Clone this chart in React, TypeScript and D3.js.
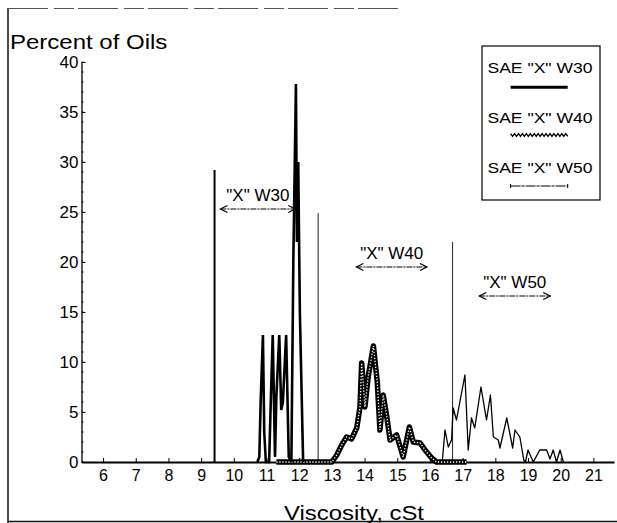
import * as d3 from "d3";
import { useEffect, useRef } from "react";

// axis ticks
const xTicks = [6, 7, 8, 9, 10, 11, 12, 13, 14, 15, 16, 17, 18, 19, 20, 21];
const yTicks = [0, 5, 10, 15, 20, 25, 30, 35, 40];

// [viscosity cSt, percent of oils]
const w30Data = [
  [10.72, 0], [10.78, 0.5], [10.82, 5.9], [10.89, 12.7], [10.93, 3], [10.98, 0],
  [11.08, 0], [11.13, 6], [11.19, 12.7], [11.26, 0.5], [11.3, 6.4], [11.39, 12.7],
  [11.45, 5.2], [11.5, 6], [11.6, 12.7], [11.68, 0.5], [11.76, 0], [11.82, 20],
  [11.9, 37.8], [11.93, 22], [11.97, 30], [12.02, 15], [12.12, 0]
];
const w40Data = [
  [11.3, 0], [13.0, 0], [13.15, 0.7], [13.3, 1.7], [13.45, 2.5], [13.6, 2.3],
  [13.76, 3.4], [13.86, 5.5], [13.91, 9.9], [13.96, 7.9], [14.01, 5.5], [14.11, 8.5],
  [14.27, 11.6], [14.39, 7.9], [14.47, 3.2], [14.57, 6.7], [14.68, 4.5], [14.78, 2.2],
  [14.98, 2.7], [15.18, 0.5], [15.37, 3.5], [15.49, 2.0], [15.7, 1.9], [15.85, 1.2],
  [16.05, 0.4], [16.2, 0], [17.12, 0]
];
const w50Data = [
  [16.3, 0], [16.38, 0.2], [16.46, 3.2], [16.56, 1.5], [16.66, 2.2], [16.71, 5.4],
  [16.81, 4.2], [17.07, 8.7], [17.17, 1.2], [17.27, 4.4], [17.37, 3.4], [17.56, 7.5],
  [17.73, 4.2], [17.85, 6.7], [17.94, 2.5], [18.09, 2.2], [18.14, 1.4], [18.35, 4.4],
  [18.53, 1.4], [18.6, 3.2], [18.75, 2.5], [18.87, 0.2], [18.92, 0], [19.0, 1.2],
  [19.16, 0], [19.36, 1.2], [19.57, 1.2], [19.67, 0.3], [19.77, 1.2], [19.87, 0],
  [19.98, 1.2], [20.08, 0]
];

// grade limits (vertical lines) and range arrows
const limitVisc = [9.41, 12.58, 16.69];
const limitTop = [29.2, 24.9, 22];
const rangeNames = ['"X" W30', '"X" W40', '"X" W50'];
const rangeFrom = [9.59, 13.75, 17.51];
const rangeTo = [11.88, 15.91, 19.68];
const rangeLevel = [25.3, 19.5, 16.6];

const legendNames = ['SAE "X" W30', 'SAE "X" W40', 'SAE "X" W50'];

const FONT = "'Liberation Sans', Arial, sans-serif";

const App = () => {
  const ref = useRef(null);

  useEffect(() => {
    const svg = d3.select(ref.current);
    svg.selectAll("*").remove();
    drawChart(svg);
  }, []);

  const drawChart = (svg) => {
    const left = 81.5, right = 614, top = 62, bottom = 462;

    const x = d3.scaleLinear().domain([5.34, 21.63]).range([left, right]);
    const y = d3.scaleLinear().domain([0, 40]).range([bottom, top]);

    svg.append("rect").attr("width", 617).attr("height", 523).attr("fill", "#fff");

    // scan frame
    const frame = svg.append("g").attr("stroke", "#111").attr("stroke-width", 1.5);
    frame.append("line").attr("x1", 8).attr("x2", 8).attr("y1", 8).attr("y2", 523);
    frame.append("line").attr("x1", 8).attr("x2", 400).attr("y1", 8.5).attr("y2", 8.5)
      .attr("stroke", "#555").attr("stroke-dasharray", "40 6 20 4").attr("stroke-width", 1);
    frame.append("line").attr("x1", 8).attr("x2", 617).attr("y1", 521.5).attr("y2", 521.5);

    // x axis
    const xAxis = svg.append("g")
      .attr("transform", "translate(0," + bottom + ")")
      .call(d3.axisBottom(x).tickValues(xTicks).tickSizeInner(-4).tickSizeOuter(0).tickPadding(8));
    xAxis.attr("font-size", 16).attr("font-family", FONT);
    xAxis.select(".domain").attr("stroke-width", 2);
    xAxis.selectAll("text").attr("fill", "#000");

    // y axis
    const yAxis = svg.append("g")
      .attr("transform", "translate(" + left + ",0)")
      .call(d3.axisLeft(y).tickValues(yTicks).tickSizeInner(-4).tickSizeOuter(0).tickPadding(3));
    yAxis.attr("font-size", 17).attr("font-family", FONT);
    yAxis.select(".domain").attr("stroke-width", 1.3);
    yAxis.selectAll("text").attr("fill", "#000");
    yAxis.selectAll(".minor")
      .data(d3.range(0, 41))
      .join("line")
      .attr("class", "minor")
      .attr("x1", 0).attr("x2", 2)
      .attr("y1", (d) => y(d)).attr("y2", (d) => y(d))
      .attr("stroke", "#000").attr("stroke-width", 1);

    // grade limit lines
    svg.append("g").selectAll("line")
      .data(limitVisc)
      .join("line")
      .attr("x1", (d) => x(d)).attr("x2", (d) => x(d))
      .attr("y1", bottom).attr("y2", (d, i) => y(limitTop[i]))
      .attr("stroke", (d, i) => i === 0 ? "#000" : "#333")
      .attr("stroke-width", (d, i) => i === 0 ? 2 : 1.1);

    const line = d3.line().x((d) => x(d[0])).y((d) => y(d[1]));

    // W50 thin line
    svg.append("path").datum(w50Data)
      .attr("d", line).attr("fill", "none")
      .attr("stroke", "#000").attr("stroke-width", 1.3).attr("stroke-linejoin", "round");

    // W40 hatched line
    svg.append("path").datum(w40Data)
      .attr("d", line).attr("fill", "none")
      .attr("stroke", "#000").attr("stroke-width", 5.5).attr("stroke-linejoin", "round");
    svg.append("path").datum(w40Data)
      .attr("d", line).attr("fill", "none")
      .attr("stroke", "#fff").attr("stroke-width", 1.3).attr("stroke-dasharray", "1.3 1.7");

    // W30 thick line
    svg.append("path").datum(w30Data)
      .attr("d", line).attr("fill", "none")
      .attr("stroke", "#000").attr("stroke-width", 2.6).attr("stroke-linejoin", "miter");

    // range arrows + labels
    const arrows = svg.append("g").attr("stroke", "#000").attr("fill", "none");
    rangeNames.forEach((name, i) => {
      const x1 = x(rangeFrom[i]), x2 = x(rangeTo[i]), yy = y(rangeLevel[i]);
      arrows.append("line").attr("x1", x1).attr("x2", x2).attr("y1", yy).attr("y2", yy)
        .attr("stroke-width", 1).attr("stroke-dasharray", "6 1 2 1");
      arrows.append("path").attr("d", `M${x1 + 7},${yy - 3.5}L${x1},${yy}L${x1 + 7},${yy + 3.5}`)
        .attr("stroke-width", 1.2);
      arrows.append("path").attr("d", `M${x2 - 7},${yy - 3.5}L${x2},${yy}L${x2 - 7},${yy + 3.5}`)
        .attr("stroke-width", 1.2);
      svg.append("text")
        .attr("x", (x1 + x2) / 2).attr("y", yy - 8.5)
        .attr("text-anchor", "middle")
        .attr("font-family", FONT).attr("font-size", 17)
        .text(name);
    });

    // titles
    svg.append("text")
      .attr("transform", "translate(10,49.3) scale(1.2,1)")
      .attr("font-family", FONT).attr("font-size", 20)
      .text("Percent of Oils");
    svg.append("text")
      .attr("transform", "translate(354,519.5) scale(1.14,1)")
      .attr("text-anchor", "middle")
      .attr("font-family", FONT).attr("font-size", 21)
      .text("Viscosity, cSt");

    // legend
    const legend = svg.append("g");
    legend.append("rect")
      .attr("x", 482).attr("y", 46).attr("width", 118).attr("height", 154)
      .attr("fill", "#fff").attr("stroke", "#000").attr("stroke-width", 1.2);
    const textY = [72.7, 123, 173];
    const symY = [87.3, 135, 186];
    legendNames.forEach((name, i) => {
      legend.append("text")
        .attr("transform", `translate(540,${textY[i]}) scale(1.17,1)`)
        .attr("text-anchor", "middle")
        .attr("font-family", FONT).attr("font-size", 15)
        .text(name);
    });
    legend.append("line").attr("x1", 510.6).attr("x2", 567.7).attr("y1", symY[0]).attr("y2", symY[0])
      .attr("stroke", "#000").attr("stroke-width", 3);
    const zig = d3.range(0, 30).map((k) => [510.6 + k * 1.97, symY[1] + (k % 2 === 0 ? -1.3 : 1.3)]);
    legend.append("path").attr("d", d3.line()(zig)).attr("fill", "none")
      .attr("stroke", "#000").attr("stroke-width", 1.3);
    legend.append("line").attr("x1", 510.6).attr("x2", 567.7).attr("y1", symY[2]).attr("y2", symY[2])
      .attr("stroke", "#000").attr("stroke-width", 1).attr("stroke-dasharray", "10 1 3 1");
    legend.append("path")
      .attr("d", `M510.6,${symY[2] - 2}V${symY[2] + 2}M567.7,${symY[2] - 2}V${symY[2] + 2}`)
      .attr("stroke", "#000").attr("stroke-width", 1);
  };

  return (
    <svg
      ref={ref}
      width={617}
      height={523}
      style={{ position: "absolute", left: 0, top: 0, display: "block" }}
    />
  );
};

export default App;
